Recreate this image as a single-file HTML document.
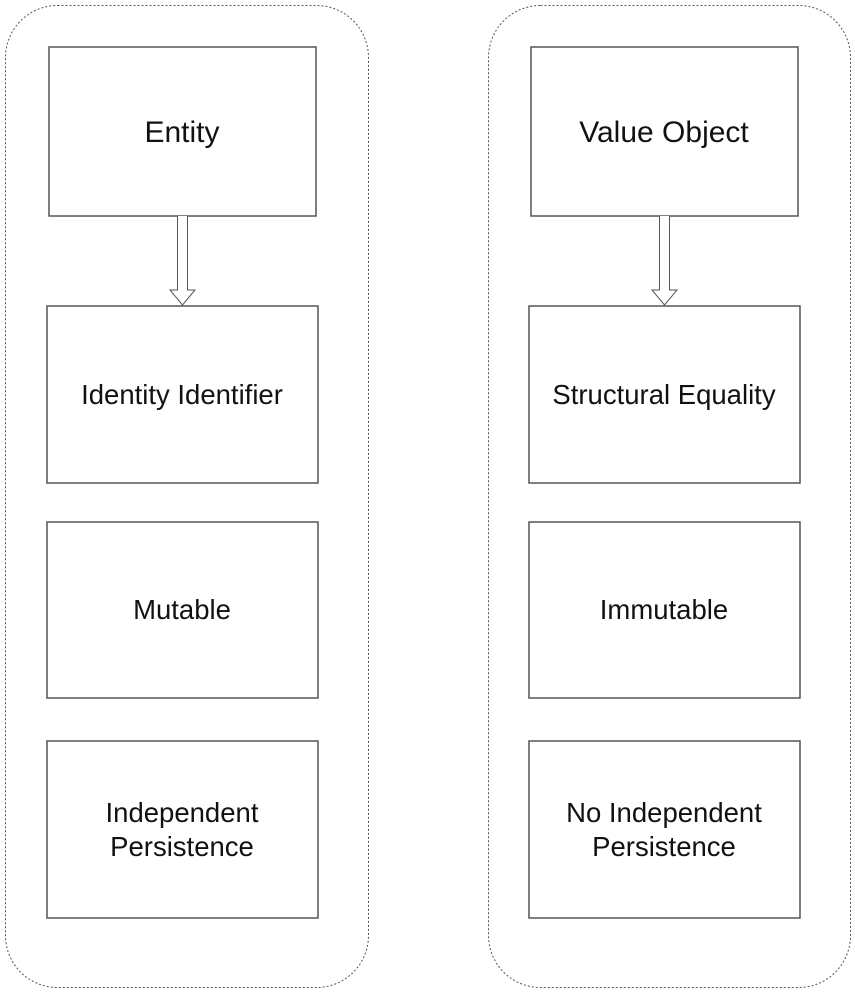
<!DOCTYPE html>
<html><head><style>
body{margin:0;width:855px;height:992px;background:#fff;overflow:hidden}
svg text{font-family:"Liberation Sans",Arial,sans-serif;fill:#111}
</style></head><body>
<svg width="855" height="992" viewBox="0 0 855 992">
<g fill="none" stroke="#555" stroke-width="1" stroke-dasharray="2,2">
<rect x="5.5" y="5.5" width="363" height="982" rx="52"/>
<rect x="488.5" y="5.5" width="362" height="982" rx="52"/>
</g>
<g fill="#fff" stroke="#555" stroke-width="1.5">
<rect x="49" y="47" width="267" height="169"/>
<rect x="47" y="306" width="271" height="177"/>
<rect x="47" y="522" width="271" height="176"/>
<rect x="47" y="741" width="271" height="177"/>
<rect x="531" y="47" width="267" height="169"/>
<rect x="529" y="306" width="271" height="177"/>
<rect x="529" y="522" width="271" height="176"/>
<rect x="529" y="741" width="271" height="177"/>
<path d="M177.5 216 V290 H170 L182.5 305 L195 290 H187.5 V216" stroke-width="1"/>
<path d="M659.5 216 V290 H652 L664.5 305 L677 290 H669.5 V216" stroke-width="1"/>
</g>
<g text-anchor="middle" font-size="27.5">
<text x="182" y="142" font-size="30">Entity</text>
<text x="664" y="142" font-size="30">Value Object</text>
<text x="182" y="404">Identity Identifier</text>
<text x="664" y="404">Structural Equality</text>
<text x="182" y="619">Mutable</text>
<text x="664" y="619">Immutable</text>
<text x="182" y="822">Independent</text>
<text x="182" y="856">Persistence</text>
<text x="664" y="822">No Independent</text>
<text x="664" y="856">Persistence</text>
</g>
</svg>
</body></html>
